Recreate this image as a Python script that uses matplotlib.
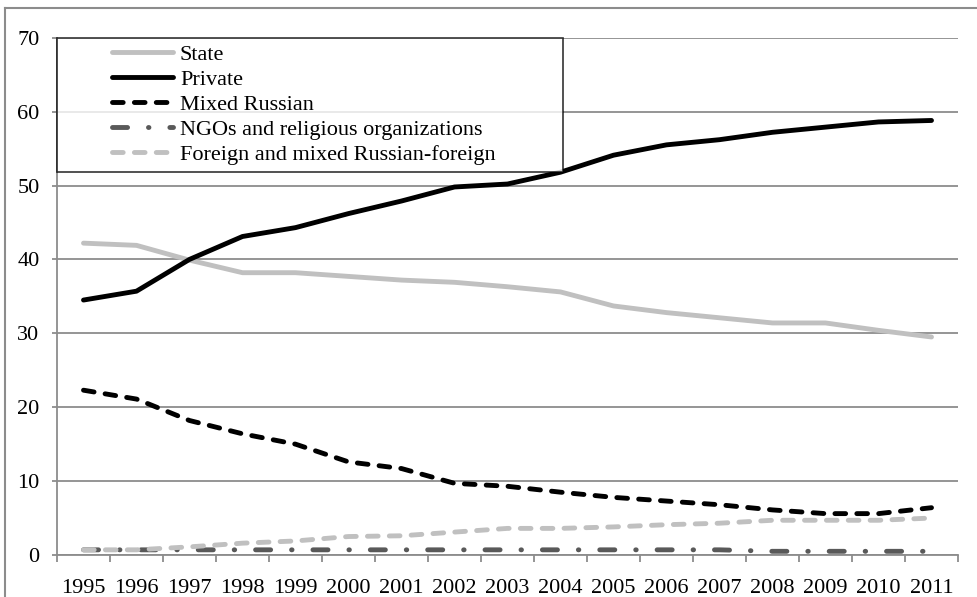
import numpy as np
import matplotlib
matplotlib.use("Agg")
import matplotlib.pyplot as plt
from matplotlib.lines import Line2D
from matplotlib.legend_handler import HandlerLine2D

plt.rcParams["font.family"] = ["Liberation Serif", "DejaVu Serif"]

years = [str(y) for y in range(1995, 2012)]
state = [42.2, 41.9, 39.9, 38.2, 38.2, 37.7, 37.2, 36.9, 36.3, 35.6, 33.7, 32.8, 32.1, 31.4, 31.4, 30.4, 29.5]
private = [34.5, 35.7, 40.0, 43.1, 44.3, 46.2, 47.9, 49.8, 50.2, 51.8, 54.1, 55.5, 56.2, 57.2, 57.9, 58.6, 58.8]
mixed_ru = [22.3, 21.1, 18.2, 16.4, 15.0, 12.6, 11.7, 9.7, 9.3, 8.5, 7.8, 7.3, 6.8, 6.1, 5.6, 5.6, 6.4]
ngo = [0.7, 0.7, 0.7, 0.7, 0.7, 0.7, 0.7, 0.7, 0.7, 0.7, 0.7, 0.7, 0.7, 0.5, 0.5, 0.5, 0.5]
foreign = [0.7, 0.7, 1.1, 1.6, 1.9, 2.5, 2.6, 3.1, 3.6, 3.6, 3.8, 4.1, 4.3, 4.7, 4.7, 4.7, 5.0]

fig = plt.figure(figsize=(9.78, 5.97), dpi=100)
ax = fig.add_axes([57 / 978, 42 / 597, 901 / 978, 517.3 / 597])

# outer frame (top and left edges visible)
fig.add_artist(Line2D([5 / 978, 1], [1 - 8 / 597, 1 - 8 / 597], transform=fig.transFigure, color="#8c8c8c", lw=1.5))
fig.add_artist(Line2D([5 / 978, 5 / 978], [0, 1 - 8 / 597], transform=fig.transFigure, color="#8c8c8c", lw=1.5))

x = np.arange(len(years))
lw = 3.5
ax.plot(x, state, color="#c0c0c0", lw=lw, label="State", solid_capstyle="round")
ax.plot(x, private, color="black", lw=lw, label="Private", solid_capstyle="round")
ax.plot(x, mixed_ru, color="black", lw=lw, dashes=(2.2, 2.3), dash_capstyle="round", label="Mixed Russian")
ax.plot(x, ngo, color="#595959", lw=lw, dashes=(3.1, 4.3, 0.1, 4.3), dash_capstyle="round",
        label="NGOs and religious organizations")
ax.plot(x, foreign, color="#c0c0c0", lw=lw, dashes=(2.2, 2.3), dash_capstyle="round",
        label="Foreign and mixed Russian-foreign")

ax.set_xlim(-0.5, len(years) - 0.5)
ax.set_ylim(0, 70)
ax.set_yticks(range(0, 71, 10))
ax.set_xticks(x)
ax.set_xticklabels(years)
ax.set_xticks(np.arange(-0.5, len(years), 1), minor=True)
ax.tick_params(axis="x", which="major", length=0, pad=17, labelsize=16)
ax.tick_params(axis="x", which="minor", length=5, width=1.3, color="#8c8c8c", direction="out")
ax.tick_params(axis="y", length=3.6, width=1.3, color="#8c8c8c", pad=9, labelsize=16)
ax.grid(axis="y", color="#8c8c8c", lw=1.3)
ax.set_axisbelow(True)
for s in ["top", "right"]:
    ax.spines[s].set_visible(False)
for s in ["left", "bottom"]:
    ax.spines[s].set_color("#8c8c8c")
    ax.spines[s].set_linewidth(1.3)

leg = ax.legend(loc="upper left", bbox_to_anchor=(0, 1, 506 / 901, 0), mode="expand",
                fontsize=16, frameon=True, fancybox=False, borderaxespad=0, borderpad=0.3,
                handlelength=4.93, handletextpad=0.3, labelspacing=0.2,
                handler_map={Line2D: HandlerLine2D(xpad=2.18)})
leg.get_frame().set_edgecolor("black")
leg.get_frame().set_linewidth(1.2)

fig.savefig("out.png", dpi=100)
